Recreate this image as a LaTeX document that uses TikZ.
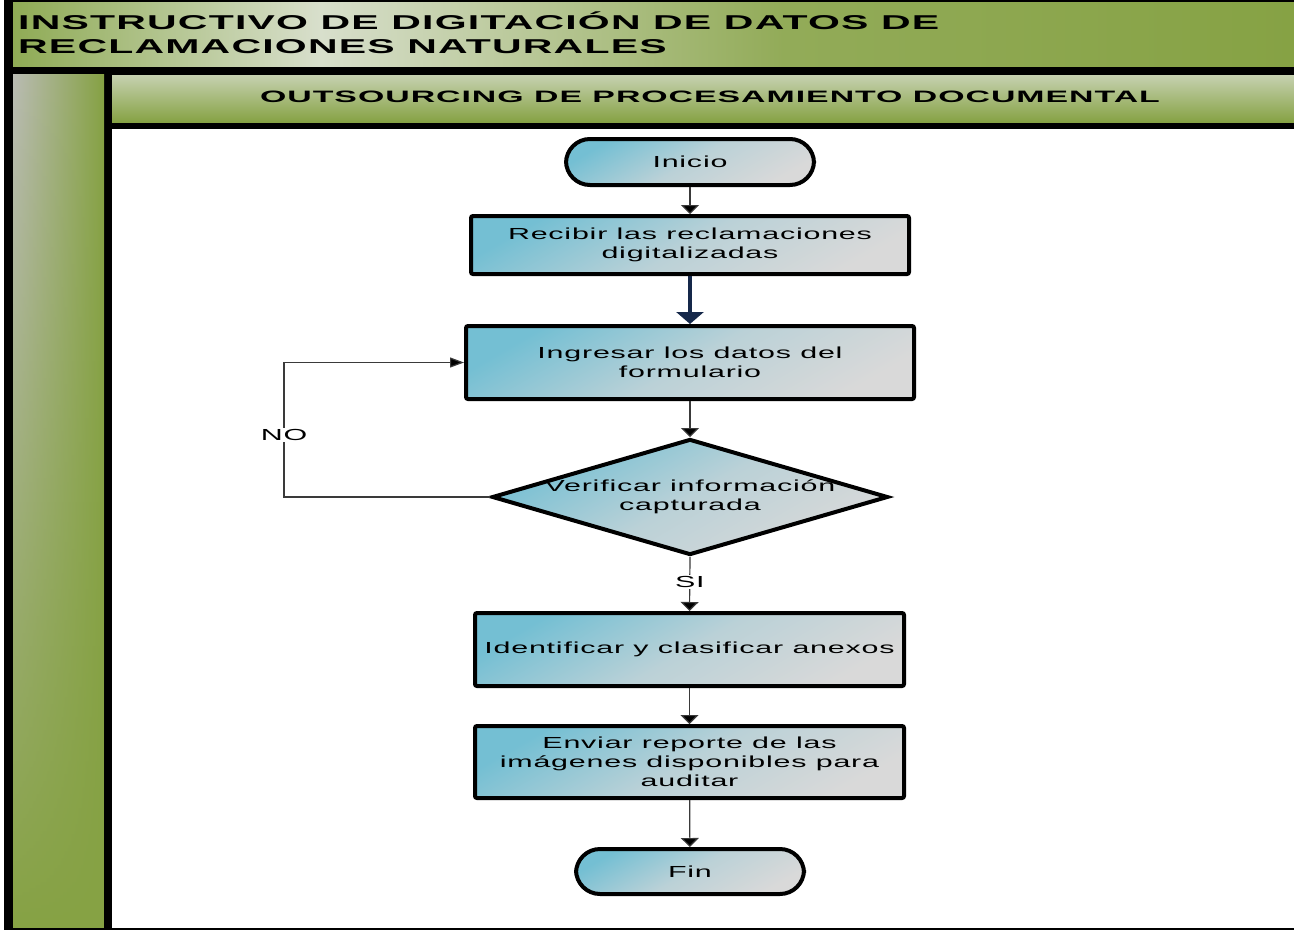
\documentclass[tikz,border=0pt]{standalone}
\usepackage{fontspec}
\setmainfont{Liberation Sans}[FakeStretch=1.9, LetterSpace=5]
\newfontfamily\headfont{Liberation Sans}[FakeStretch=2.05, LetterSpace=6]
\usetikzlibrary{arrows.meta,shapes.geometric,fadings}
\definecolor{gDark}{HTML}{86A244}
\definecolor{gLeft}{HTML}{8FAB55}
\definecolor{gLight}{HTML}{D8DFCC}
\definecolor{gTop}{HTML}{C6D1B0}
\definecolor{gGrey}{HTML}{BABCB4}
\definecolor{bBlue}{HTML}{74BFD3}
\definecolor{bGrey}{HTML}{D9D9D9}
\definecolor{navy}{HTML}{15284A}
\definecolor{lineGrey}{HTML}{3A3A3A}
\pgfdeclarehorizontalshading{titlesh}{100bp}{color(0bp)=(gLeft); color(25bp)=(gLeft); color(37bp)=(gLight); color(55bp)=(gDark!85!gLight); color(75bp)=(gDark); color(100bp)=(gDark)}
\tikzset{
  procbox/.style={draw=black, line width=4pt, rounded corners=2pt, top color=bBlue, bottom color=bGrey, middle color=bBlue!30!bGrey, shading angle=30, align=center, font=\fontsize{16}{19}\selectfont, inner sep=0pt},
  term/.style={procbox, rounded corners=24pt},
  arr/.style={draw=lineGrey, line width=1.2pt, -{Triangle[width=18pt,length=9pt,fill=black]}},
  harr/.style={draw=lineGrey, line width=1.2pt, -{Triangle[width=10pt,length=14pt,fill=black]}},
  thickarr/.style={draw=navy, line width=4pt, -{Triangle[width=27pt,length=12pt]}},
  lbl/.style={fill=white, inner sep=1pt, font=\fontsize{16}{19}\selectfont},
  headtxt/.style={font=\headfont\bfseries\fontsize{20}{24}\selectfont, align=left, inner sep=0pt, anchor=west},
  subtxt/.style={font=\headfont\bfseries\fontsize{16.5}{20}\selectfont, inner sep=0pt}
}
\begin{document}
\begin{tikzpicture}[x=1pt,y=-1pt]
\useasboundingbox (0,0) rectangle (1294,930);
% frame
\fill[black] (4,0) rectangle (1294,930);
\shade[shading=titlesh] (13,2) rectangle (1294,66);
\fill[gDark] (13,75) rectangle (104,928);
\shade[left color=gGrey, right color=gDark, path fading=south] (13,75) rectangle (104,928);
\shade[top color=gTop, bottom color=gDark] (112,75) rectangle (1294,122);
\fill[white] (112,129) rectangle (1294,928);
% titles
\node[headtxt] (title) at (18,32.5) {INSTRUCTIVO DE DIGITACIÓN DE DATOS DE\\RECLAMACIONES NATURALES};
\node[subtxt] (subtitle) at (710,97) {OUTSOURCING DE PROCESAMIENTO DOCUMENTAL};
% nodes
\node[term, minimum width=248pt, minimum height=46pt] (inicio) at (690,162) {Inicio};
\node[procbox, minimum width=438pt, minimum height=58pt] (recibir) at (690,245) {Recibir las reclamaciones\\digitalizadas};
\node[procbox, minimum width=448pt, minimum height=73pt] (ingresar) at (690,362.5) {Ingresar los datos del\\formulario};
\node[diamond, draw=black, line width=4pt, top color=bBlue, bottom color=bGrey, middle color=bBlue!30!bGrey, shading angle=30, minimum width=396pt, minimum height=116pt, inner sep=0pt] (verif) at (690,497) {};
\node[align=center, inner sep=0pt, font=\fontsize{16}{19}\selectfont] (veriftxt) at (verif.center) {Verificar información\\capturada};
\node[procbox, minimum width=429pt, minimum height=73pt] (identif) at (689.5,649.5) {Identificar y clasificar anexos};
\node[procbox, minimum width=429pt, minimum height=72pt] (enviar) at (689.5,762) {Enviar reporte de las\\imágenes disponibles para\\auditar};
\node[term, minimum width=228pt, minimum height=45pt] (fin) at (690,871.5) {Fin};
% connectors
\draw[arr] (inicio) -- (recibir);
\draw[thickarr] (recibir) -- (ingresar);
\draw[arr] (ingresar) -- (verif);
\coordinate (noturn) at (284,497);
\draw[harr] (verif.west) -- (noturn) -- node[lbl, pos=0.46] (nolbl) {NO} (noturn |- ingresar.west) -- (ingresar.west);
\draw[arr] (verif.south) -- node[lbl, pos=0.46] (silbl) {SI} (identif.north);
\draw[arr] (identif) -- (enviar);
\draw[arr] (enviar) -- (fin);
\end{tikzpicture}
\end{document}
